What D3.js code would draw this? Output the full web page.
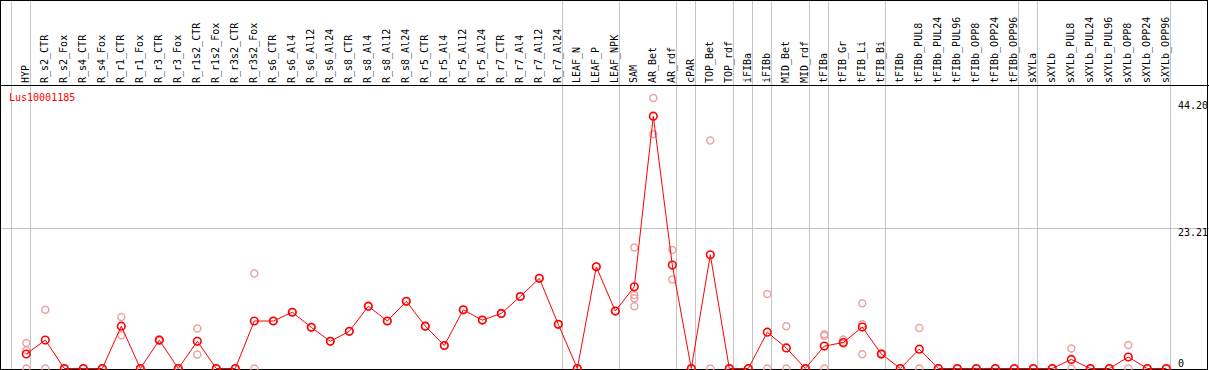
<!DOCTYPE html>
<html>
<head>
<meta charset="utf-8">
<script src="https://cdn.jsdelivr.net/npm/d3@7"></script>
<style>
	body { margin: 0; background: white; }
	text { font-family: "DejaVu Sans Mono", monospace; font-size: 10px; }
</style>
</head>
<body>
<svg id="chart"></svg>
<script>
var geneName = "Lus10001185";

var samples = ["HYP", "R_s2_CTR", "R_s2_Fox", "R_s4_CTR", "R_s4_Fox", "R_r1_CTR", "R_r1_Fox",
	"R_r3_CTR", "R_r3_Fox", "R_r1s2_CTR", "R_r1s2_Fox", "R_r3s2_CTR", "R_r3s2_Fox",
	"R_s6_CTR", "R_s6_Al4", "R_s6_Al12", "R_s6_Al24", "R_s8_CTR", "R_s8_Al4", "R_s8_Al12", "R_s8_Al24",
	"R_r5_CTR", "R_r5_Al4", "R_r5_Al12", "R_r5_Al24", "R_r7_CTR", "R_r7_Al4", "R_r7_Al12", "R_r7_Al24",
	"LEAF_N", "LEAF_P", "LEAF_NPK", "SAM", "AR_Bet", "AR_rdf", "cPAR", "TOP_Bet", "TOP_rdf",
	"iFIBa", "iFIBb", "MID_Bet", "MID_rdf", "tFIBa", "tFIB_Gr", "tFIB_Li", "tFIB_Bi", "tFIBb",
	"tFIBb_PUL8", "tFIBb_PUL24", "tFIBb_PUL96", "tFIBb_OPP8", "tFIBb_OPP24", "tFIBb_OPP96",
	"sXYLa", "sXYLb", "sXYLb_PUL8", "sXYLb_PUL24", "sXYLb_PUL96", "sXYLb_OPP8", "sXYLb_OPP24", "sXYLb_OPP96"];

// mean expression per sample
var means = [2.4, 4.7, 0, 0, 0, 7.0, 0,
	4.7, 0, 4.5, 0, 0, 7.85,
	7.85, 9.3, 6.8, 4.5, 6.15, 10.3, 7.85, 11.1,
	7.0, 3.8, 9.7, 8.0, 9.1, 11.9, 14.9, 7.3,
	0, 16.8, 9.5, 13.5, 41.7, 17.1, 0, 18.8, 0,
	0, 6.0, 3.4, 0, 3.7, 4.3, 6.85, 2.4, 0,
	3.2, 0, 0, 0, 0, 0,
	0, 0, 1.5, 0, 0, 1.9, 0, 0];

// individual replicates per sample
var replicates = [[4.2, 3.0, 0], [9.7, 0], [0, 0], [0, 0], [0, 0], [8.5, 5.5], [0, 0],
	[4.8, 4.6], [0, 0], [6.6, 2.3], [0, 0], [0, 0], [15.7, 0],
	[7.85], [9.3], [6.8], [4.5], [6.15], [10.3], [7.85], [11.1],
	[7.0], [3.8], [9.7], [8.0], [9.1], [11.9], [14.9], [7.3],
	[0], [16.8], [9.5], [20.0, 12.15, 11.6, 10.3], [44.7, 38.7], [19.6, 14.7], [0, 0], [37.7, 0], [0, 0],
	[0, 0], [12.3, 0], [7.0, 0], [0, 0], [5.65, 5.4, 0], [4.8, 4.1], [10.8, 7.3, 2.35], [2.5, 2.3], [0, 0],
	[6.7, 0], [0, 0], [0, 0], [0, 0], [0, 0], [0, 0],
	[0, 0], [0, 0], [3.3, 0], [0, 0], [0, 0], [3.9, 0], [0, 0], [0, 0]];

// last sample of each group (a grey line is drawn after it)
var groupEnds = ["HYP", "R_r7_Al24", "LEAF_NPK", "AR_rdf", "cPAR", "TOP_rdf", "iFIBa", "iFIBb",
	"MID_rdf", "tFIBa", "tFIB_Bi", "tFIBb_OPP96", "sXYLa", "sXYLb_OPP96"];

var yTicks = [0, 23.21, 44.20];
var yGrid = [23.21];

const width = 1209;
const height = 370;
const headerBottom = 85.5;

var svg = d3.select("#chart").attr("width", width).attr("height", height);

var x = d3.scalePoint()
	.domain(samples)
	.range([26.3, 26.3 + 19 * (samples.length - 1)]);

var y = d3.scaleLinear()
	.domain([0, 44.20])
	.range([368.5, 368.5 - 44.20 * 6.05]);

var crisp = function (v) { return Math.round(v) + 0.5; };

// vertical group separators
var sepX = [x(samples[0]) - 19 + 4].concat(groupEnds.map(function (s) { return x(s) + 4; }));
svg.selectAll("line.sep")
	.data(sepX)
	.enter()
	.append("line")
	.attr("class", "sep")
	.attr("x1", function (d) { return crisp(d); })
	.attr("x2", function (d) { return crisp(d); })
	.attr("y1", 0)
	.attr("y2", height)
	.attr("stroke", "#c4c4c4")
	.attr("stroke-width", 1);

// horizontal grid
svg.selectAll("line.grid")
	.data(yGrid)
	.enter()
	.append("line")
	.attr("class", "grid")
	.attr("x1", 0)
	.attr("x2", width)
	.attr("y1", function (d) { return crisp(y(d)); })
	.attr("y2", function (d) { return crisp(y(d)); })
	.attr("stroke", "#c4c4c4");

// header line and frame
svg.append("line")
	.attr("x1", 0).attr("x2", width)
	.attr("y1", headerBottom).attr("y2", headerBottom)
	.attr("stroke", "black");

svg.append("rect")
	.attr("x", 0.5).attr("y", 0.5)
	.attr("width", width - 2).attr("height", height - 1)
	.attr("fill", "none")
	.attr("stroke", "black")
	.attr("stroke-width", 1);

// sample labels
svg.selectAll("text.sample")
	.data(samples)
	.enter()
	.append("text")
	.attr("class", "sample")
	.attr("transform", function (d) { return "translate(" + (x(d) + 2.5) + ",83) rotate(-90)"; })
	.attr("fill", "black")
	.text(function (d) { return d; });

// y labels
svg.selectAll("text.ytick")
	.data(yTicks)
	.enter()
	.append("text")
	.attr("class", "ytick")
	.attr("x", 1178)
	.attr("y", function (d) { return d === 0 ? 366.5 : y(d) + 8; })
	.attr("fill", "black")
	.text(function (d) { return d === 0 ? "0" : d.toFixed(2); });

svg.append("text")
	.attr("x", 9)
	.attr("y", 101)
	.attr("fill", "red")
	.text(geneName);

// replicate points
var reps = [];
replicates.forEach(function (r, i) {
	r.forEach(function (v) { reps.push({ s: samples[i], v: v }); });
});

svg.selectAll("circle.rep")
	.data(reps)
	.enter()
	.append("circle")
	.attr("class", "rep")
	.attr("cx", function (d) { return x(d.s); })
	.attr("cy", function (d) { return y(d.v); })
	.attr("r", 3.5)
	.attr("fill", "none")
	.attr("stroke", "#eda3a3")
	.attr("stroke-width", 1.5);

// mean line
var line = d3.line()
	.x(function (d, i) { return x(samples[i]); })
	.y(function (d) { return y(d); });

svg.append("path")
	.datum(means)
	.attr("d", line)
	.attr("fill", "none")
	.attr("stroke", "red")
	.attr("stroke-width", 1);

svg.selectAll("circle.mean")
	.data(means)
	.enter()
	.append("circle")
	.attr("class", "mean")
	.attr("cx", function (d, i) { return x(samples[i]); })
	.attr("cy", function (d) { return y(d); })
	.attr("r", 3.8)
	.attr("fill", "none")
	.attr("stroke", "red")
	.attr("stroke-width", 1.6);
</script>
</body>
</html>
